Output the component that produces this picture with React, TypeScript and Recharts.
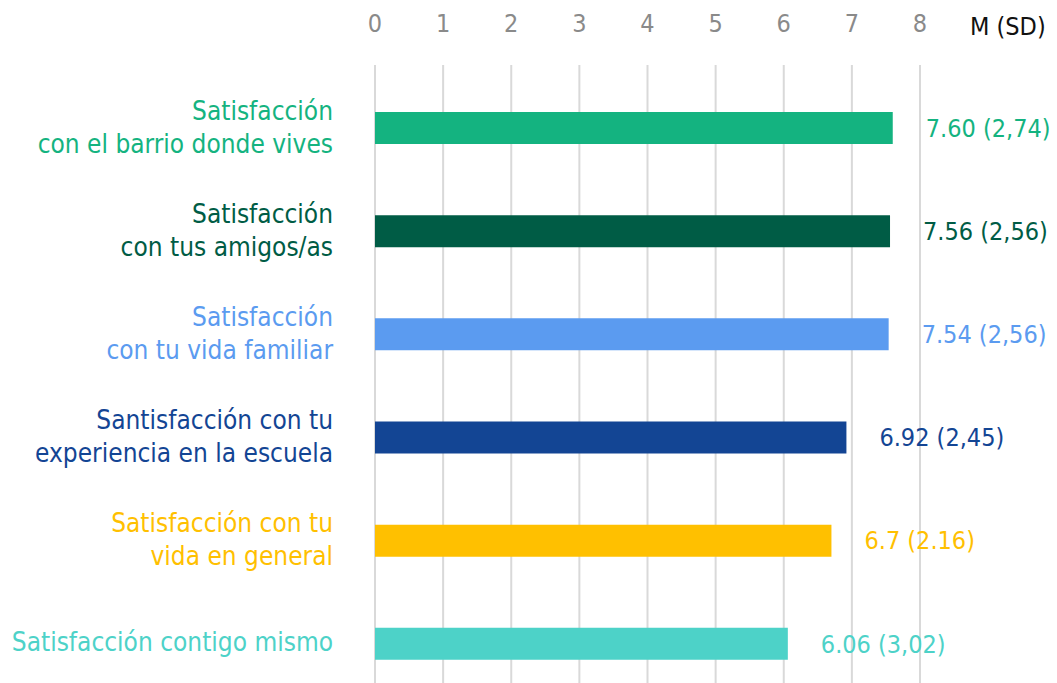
import { BarChart, Bar, XAxis, YAxis, CartesianGrid, Cell, LabelList } from "recharts";

const categories = [
  "Satisfacción\ncon el barrio donde vives",
  "Satisfacción\ncon tus amigos/as",
  "Satisfacción\ncon tu vida familiar",
  "Santisfacción con tu\nexperiencia en la escuela",
  "Satisfacción con tu\nvida en general",
  "Satisfacción contigo mismo",
];
const means = [7.6, 7.56, 7.54, 6.92, 6.7, 6.06];
const meanLabels = ["7.60", "7.56", "7.54", "6.92", "6.7", "6.06"];
const sdLabels = ["2,74", "2,56", "2,56", "2,45", "2.16", "3,02"];
const colors = ["#14b380", "#005c45", "#5b9bf0", "#134594", "#ffc000", "#4dd2c8"];
const xTicks = [0, 1, 2, 3, 4, 5, 6, 7, 8];

const FONT = "'Liberation Sans Narrow', 'DejaVu Sans Condensed', 'Roboto', sans-serif";

const data = categories.map((name, i) => ({
  name,
  value: means[i],
  label: `${meanLabels[i]} (${sdLabels[i]})`,
}));

const CategoryTick = (props: any) => {
  const { x, y, payload, index } = props;
  const lines: string[] = String(payload.value).split("\n");
  const color = colors[index] ?? "#333";
  const start = lines.length > 1 ? y - 17 : y - 2;
  return (
    <text x={x} y={start} textAnchor="end" fill={color} fontFamily={FONT} fontSize={26} fontWeight={300}>
      {lines.map((l, i) => (
        <tspan key={i} x={x} y={start + i * 33} dy="0.35em">
          {l}
        </tspan>
      ))}
    </text>
  );
};

const ValueTick = (props: any) => {
  const { x, y, payload } = props;
  return (
    <text x={x} y={y - 25} textAnchor="middle" fill="#8a8a8a" fontFamily={FONT} fontSize={25} fontWeight={300}>
      {payload.value}
    </text>
  );
};

const ValueLabel = (props: any) => {
  const { x, y, width, height, index } = props;
  return (
    <text
      x={x + width + 33}
      y={y + height / 2}
      dy="0.35em"
      fill={colors[index]}
      fontFamily={FONT}
      fontSize={25}
      fontWeight={300}
    >
      {data[index].label}
    </text>
  );
};

export default function App() {
  return (
    <div style={{ position: "absolute", left: 0, top: 0, width: 1057, height: 683, overflow: "hidden", background: "#fff" }}>
      <BarChart
        width={1057}
        height={700}
        data={data}
        layout="vertical"
        margin={{ top: 0, right: 137, bottom: 5, left: 0 }}
        barSize={32}
      >
        <CartesianGrid horizontal={false} stroke="#d9d9d9" strokeWidth={2} />
        <XAxis
          type="number"
          orientation="top"
          domain={[0, 8]}
          ticks={xTicks}
          height={65}
          axisLine={false}
          tickLine={false}
          tick={<ValueTick />}
          label={{
            content: (p: any) => (
              <text
                x={p.viewBox.x + p.viewBox.width + 50}
                y={35}
                fill="#111"
                fontFamily={FONT}
                fontSize={25}
              >
                M (SD)
              </text>
            ),
          }}
        />
        <YAxis
          type="category"
          dataKey="name"
          width={375}
          axisLine={false}
          tickLine={false}
          tickSize={0}
          tickMargin={42}
          padding={{ top: 11, bottom: 0 }}
          tick={<CategoryTick />}
          interval={0}
        />
        <Bar dataKey="value" isAnimationActive={false}>
          {data.map((d, i) => (
            <Cell key={d.name} fill={colors[i]} />
          ))}
          <LabelList dataKey="label" content={<ValueLabel />} />
        </Bar>
      </BarChart>
    </div>
  );
}
